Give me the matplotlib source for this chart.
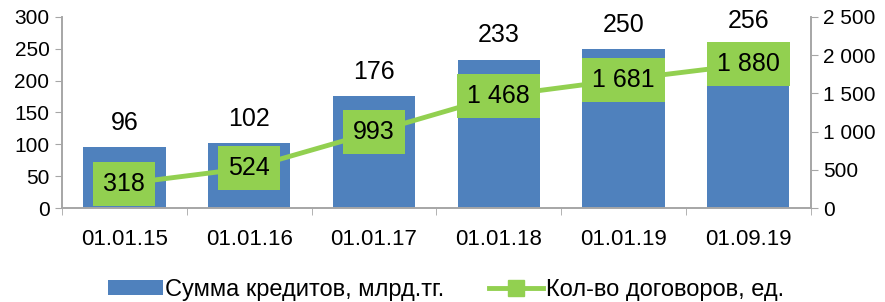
import matplotlib.pyplot as plt
import numpy as np
from matplotlib.ticker import FuncFormatter

plt.rcParams['font.family'] = ['Liberation Sans', 'DejaVu Sans']

# данные
dates = ["01.01.15", "01.01.16", "01.01.17", "01.01.18", "01.01.19", "01.09.19"]
loan_sum = [96, 102, 176, 233, 250, 256]
contracts = [318, 524, 993, 1468, 1681, 1880]

blue = "#4F81BD"
green = "#92D050"
grey = "#A6A6A6"

fig = plt.figure(figsize=(8.85, 3.02), dpi=100)
ax = fig.add_axes([0.070, 0.311, 0.846, 0.633])
ax2 = ax.twinx()

x = np.arange(len(dates))
ax.bar(x, loan_sum, width=0.66, color=blue, label="Сумма кредитов, млрд.тг.")
for xi, v in zip(x, loan_sum):
    ax.text(xi, v + 27, str(v), ha="center", va="baseline", fontsize=18)

ax2.plot(x, contracts, color=green, lw=3.5, marker="s", ms=12,
         label="Кол-во договоров, ед.")
for xi, v in zip(x, contracts):
    ax2.text(xi, v, f"{v:,}".replace(",", " "), ha="center", va="center", fontsize=18,
             bbox=dict(boxstyle="square,pad=0.4", fc=green, ec="none"))

ax.set_xlim(-0.5, len(dates) - 0.5)
ax.set_ylim(0, 300)
ax.set_yticks(range(0, 301, 50))
ax2.set_ylim(0, 2500)
ax2.set_yticks(range(0, 2501, 500))
ax2.yaxis.set_major_formatter(FuncFormatter(lambda v, p: f"{int(v):,}".replace(",", " ")))

ax.set_xticks(x)
ax.set_xticklabels(dates)
ax.set_xticks(np.arange(-0.5, len(dates)), minor=True)
ax.tick_params(axis="x", which="major", length=0, labelsize=16, pad=15)
ax.tick_params(axis="x", which="minor", length=5, color=grey)
ax.tick_params(axis="y", labelsize=15, length=5, color=grey, pad=4)
ax2.tick_params(axis="y", labelsize=15, length=5, color=grey, pad=4)

for a in (ax, ax2):
    a.spines["top"].set_visible(False)
    for s in ("left", "right", "bottom"):
        a.spines[s].set_color(grey)
        a.spines[s].set_linewidth(1.2)

h1, l1 = ax.get_legend_handles_labels()
h2, l2 = ax2.get_legend_handles_labels()
fig.legend(h1 + h2, l1 + l2, loc="center", bbox_to_anchor=(0.504, 0.04), ncol=2,
           frameon=False, fontsize=17, columnspacing=1.9, handlelength=2.3,
           handletextpad=0.1, handleheight=0.6)

fig.savefig("out.png", dpi=100)
